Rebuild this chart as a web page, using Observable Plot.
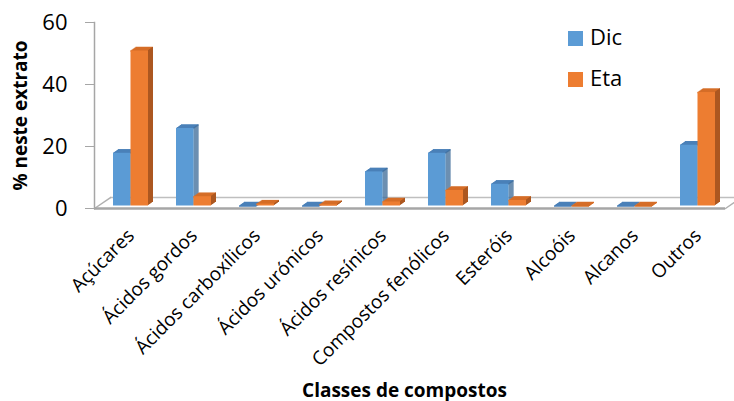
<!DOCTYPE html>
<html><head><meta charset="utf-8">
<script src="https://cdn.jsdelivr.net/npm/d3@7"></script>
<script src="https://cdn.jsdelivr.net/npm/@observablehq/plot@0.6"></script>
<style>
body{margin:0;background:#fff;}
#wrap{position:relative;width:734px;height:401px;overflow:hidden;font-family:"Open Sans",sans-serif;}
#wrap svg{position:absolute;left:0;top:0;}
.lg{position:absolute;left:568px;height:22px;line-height:22px;font-size:22px;color:#000;white-space:nowrap;}
.lg span.sw{position:absolute;left:0;top:0;width:15px;height:15px;}
.lg span.tx{position:absolute;left:22px;top:-6px;}
</style></head><body><div id="wrap"></div>
<script>
const categories = ["Açúcares","Ácidos gordos","Ácidos carboxílicos","Ácidos urónicos","Ácidos resínicos","Compostos fenólicos","Esteróis","Alcoóis","Alcanos","Outros"];
const dic = [17, 25, 0, 0, 11, 17, 7, 0, 0, 19.6];
const eta = [50, 3, 0.6, 0.4, 1.3, 5, 1.8, 0, 0, 36.6];
const series = ["Dic","Eta"];
const yTicks = [0, 20, 40, 60];
const xTitle = "Classes de compostos";
const yTitle = "% neste extrato";

const data = categories.map((c, i) => ({cat: c, Dic: dic[i], Eta: eta[i]}));
const colors = {
  Dic: {front: "#5b9bd5", top: "#4a80b8", side: "#3c6a98"},
  Eta: {front: "#ed7d31", top: "#d56d27", side: "#ac5720"}
};
const half = 31.5, bar = 17.5, DEPTH = 5, RISE = 0.7, BASE = -2.5;

function barMarks(s, left) {
  const inL = left ? half - bar : half;
  const inR = left ? half : half - bar;
  const m = [];
  for (let i = 0; i <= DEPTH; i++)
    m.push(Plot.tickY(data, {x: "cat", y: s, insetLeft: inL, insetRight: inR, dx: i, dy: BASE - RISE * i, stroke: colors[s].top, strokeWidth: 1.5}));
  for (let i = 1; i <= DEPTH; i++)
    m.push(Plot.barY(data, {x: "cat", y: s, insetLeft: inL + bar - 1, insetRight: inR, dx: i, dy: BASE - RISE * i, fill: colors[s].side}));
  m.push(Plot.barY(data, {x: "cat", y: s, insetLeft: inL, insetRight: inR, dy: BASE, fill: colors[s].front}));
  return m;
}

const diag = {draw(ctx, l) { ctx.moveTo(0, 0); ctx.lineTo(0, -l); }};

const plot = Plot.plot({
  width: 734, height: 401,
  marginLeft: 94, marginRight: 0, marginTop: 22, marginBottom: 193,
  style: {fontFamily: "Open Sans", fontSize: "16px", color: "#000", background: "transparent"},
  x: {domain: categories, range: [98.5, 728.5], padding: 0, axis: null},
  y: {domain: [0, 60], axis: null},
  marks: [
    Plot.ruleY([0], {stroke: "#bfbfbf", strokeWidth: 1.5, dy: -11, insetLeft: 16}),
    Plot.vector([0], {y: d => d, frameAnchor: "left", length: 19.4, rotate: 55.5, anchor: "start", shape: diag, stroke: "#b0b0b0", strokeWidth: 1.5}),
    Plot.vector([0], {y: d => d, frameAnchor: "right", dx: -9, length: 19.4, rotate: 55.5, anchor: "start", shape: diag, stroke: "#b0b0b0", strokeWidth: 1.5}),
    Plot.ruleY([0], {stroke: "#a6a6a6", strokeWidth: 2.5, insetRight: 9}),
    ...barMarks("Dic", true),
    ...barMarks("Eta", false),
    Plot.frame({anchor: "left", stroke: "#a6a6a6", strokeWidth: 1.5}),
    Plot.axisY({ticks: yTicks, tickSize: 9, tickPadding: 18, fontSize: 22, stroke: "#a6a6a6", label: null}),
    Plot.axisX({tickRotate: -45, tickSize: 0, tickPadding: 24, fontSize: 19, label: null}),
    Plot.text([yTitle], {text: d => d, frameAnchor: "left", textAnchor: "middle", rotate: -90, dx: -74, fontWeight: "bold", fontSize: 19}),
    Plot.text([xTitle], {text: d => d, frameAnchor: "bottom", dx: -10, dy: 188, fontWeight: "bold", fontSize: 19})
  ]
});
const wrap = document.getElementById("wrap");
wrap.appendChild(plot);

series.forEach((s, i) => {
  const d = document.createElement("div");
  d.className = "lg";
  d.style.top = (31 + i * 41) + "px";
  d.innerHTML = `<span class="sw" style="background:${colors[s].front}"></span><span class="tx">${s}</span>`;
  wrap.appendChild(d);
});
</script>
</body></html>
